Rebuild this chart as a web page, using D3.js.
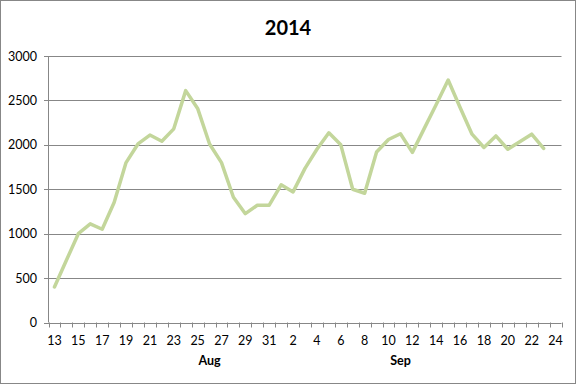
<!DOCTYPE html>
<html>
<head>
<meta charset="utf-8">
<script src="https://cdn.jsdelivr.net/npm/d3@7"></script>
<style>
  body { margin: 0; background: #fff; }
  text { font-family: Lato, "Open Sans", sans-serif; fill: #000; }
</style>
</head>
<body>
<div id="chart"></div>
<script>
// categories: 13 Aug .. 24 Sep (last category has no value)
var days = ['13', '14', '15', '16', '17', '18', '19', '20', '21', '22', '23', '24', '25', '26', '27', '28', '29', '30', '31',
    '1', '2', '3', '4', '5', '6', '7', '8', '9', '10', '11', '12', '13', '14', '15', '16', '17', '18', '19', '20', '21', '22', '23', '24'];
var values = [400, 700, 1000, 1110, 1050, 1350, 1800, 2010, 2110, 2040, 2180, 2610, 2410, 2010, 1800, 1410, 1225, 1320, 1320,
    1550, 1470, 1735, 1950, 2135, 2000, 1500, 1455, 1920, 2060, 2125, 1915, 2185, 2455, 2730, 2420, 2120, 1970, 2100, 1950, 2035, 2120, 1960];
var yTicks = [0, 500, 1000, 1500, 2000, 2500, 3000];
var months = ['Aug', 'Sep'];
var monthAt = [13, 29]; // category index the month label sits under
var title = '2014';

var width = 577, height = 385;
var plotL = 48.5, plotR = 561.5, plotT = 56, plotB = 322.5;
var grey = '#878787';

var svg = d3.select('#chart').append('svg')
    .attr('width', width)
    .attr('height', height);

svg.append('rect')
    .attr('x', 0.5).attr('y', 0.5)
    .attr('width', width - 2).attr('height', height - 2)
    .attr('fill', '#fff')
    .attr('stroke', grey);

svg.append('text')
    .attr('x', 288)
    .attr('y', 35)
    .attr('text-anchor', 'middle')
    .style('font-size', '20px')
    .style('font-weight', 'bold')
    .text(title);

var x = d3.scaleBand()
    .domain(d3.range(days.length))
    .range([plotL, plotR]);
var y = d3.scaleLinear()
    .domain([0, 3000])
    .range([plotB, plotT]);

// gridlines
svg.append('g')
    .selectAll('line')
    .data(yTicks)
    .enter()
    .append('line')
    .attr('x1', plotL - 4.5)
    .attr('x2', plotR)
    .attr('y1', d => Math.round(y(d)) + 0.5)
    .attr('y2', d => Math.round(y(d)) + 0.5)
    .attr('stroke', grey);

// y axis
svg.append('line')
    .attr('x1', plotL).attr('x2', plotL)
    .attr('y1', plotT).attr('y2', plotB)
    .attr('stroke', grey);
svg.append('g')
    .selectAll('text')
    .data(yTicks)
    .enter()
    .append('text')
    .attr('x', 37)
    .attr('y', d => y(d) + 4.5)
    .attr('text-anchor', 'end')
    .style('font-size', '12.5px')
    .text(d => d);

// x axis ticks between categories
var edges = d3.range(days.length + 1);
svg.append('g')
    .selectAll('line')
    .data(edges)
    .enter()
    .append('line')
    .attr('x1', d => Math.round(d < days.length ? x(d) : plotR) + 0.5)
    .attr('x2', d => Math.round(d < days.length ? x(d) : plotR) + 0.5)
    .attr('y1', plotB)
    .attr('y2', plotB + 5)
    .attr('stroke', grey);

svg.append('g')
    .selectAll('text')
    .data(d3.range(0, days.length, 2))
    .enter()
    .append('text')
    .attr('x', d => x(d) + x.bandwidth() / 2)
    .attr('y', plotB + 22)
    .attr('text-anchor', 'middle')
    .style('font-size', '12.5px')
    .text(d => days[d]);

svg.append('g')
    .selectAll('text')
    .data(months)
    .enter()
    .append('text')
    .attr('x', (d, i) => x(monthAt[i]) + x.bandwidth() / 2)
    .attr('y', 365)
    .attr('text-anchor', 'middle')
    .style('font-size', '12.5px')
    .style('font-weight', 'bold')
    .text(d => d);

// series
var line = d3.line()
    .x((d, i) => x(i) + x.bandwidth() / 2)
    .y(d => y(d));
svg.append('path')
    .datum(values)
    .attr('d', line)
    .attr('fill', 'none')
    .attr('stroke', '#c3d69b')
    .attr('stroke-width', 3.5)
    .attr('stroke-linejoin', 'round')
    .attr('stroke-linecap', 'round');
</script>
</body>
</html>
